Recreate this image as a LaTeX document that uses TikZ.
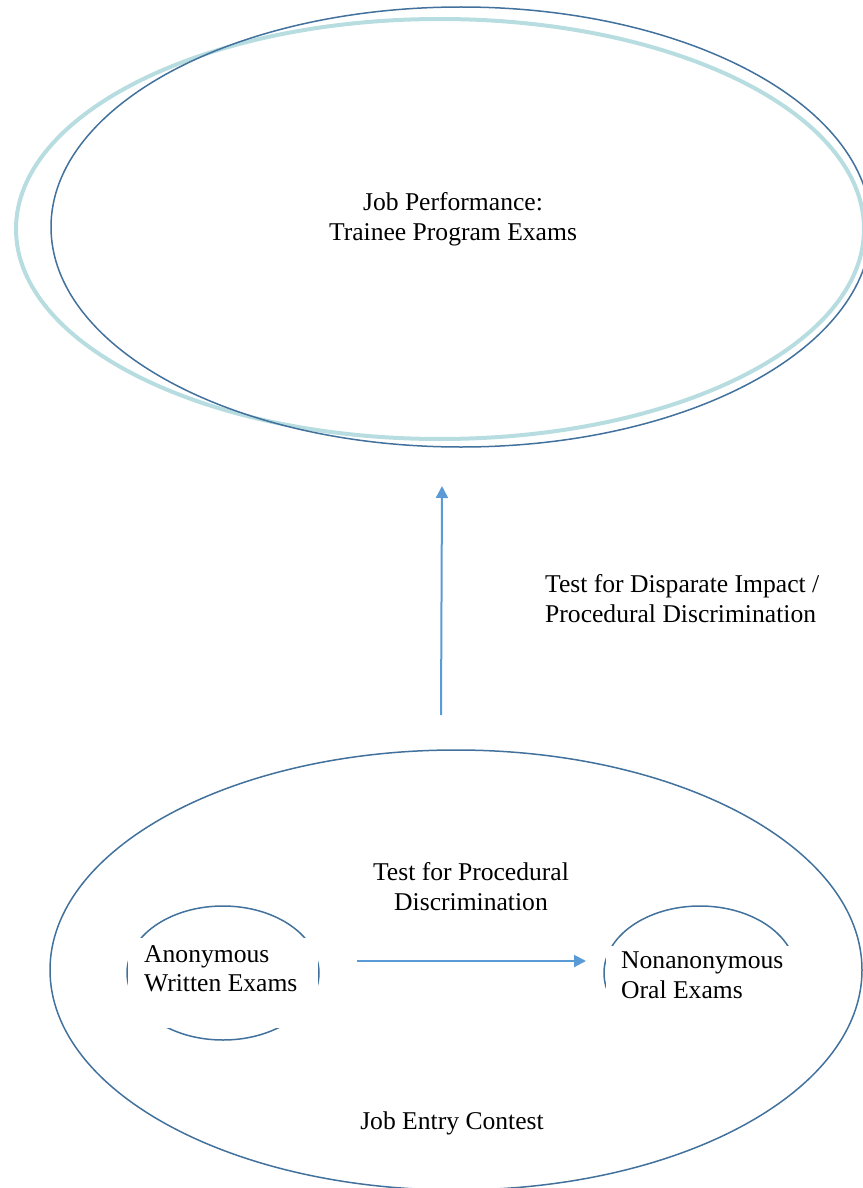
\documentclass[tikz,border=0pt]{standalone}
\usepackage{fontspec}
\setmainfont{Liberation Serif}
\usetikzlibrary{arrows.meta}
\definecolor{ringdark}{HTML}{41719C}
\definecolor{ringlight}{HTML}{B7DDE0}
\definecolor{arrowblue}{HTML}{5B9BD5}
\tikzset{
  lbl/.style={inner sep=0pt, font=\fontsize{25.6}{29.5}\selectfont},
  ring/.style={draw=ringdark, line width=1.5pt},
  lightring/.style={draw=ringlight, line width=4pt},
  flow/.style={draw=arrowblue, line width=2pt, -{Triangle[length=12pt,width=12pt]}},
  mask/.style={fill=white, draw=none}
}
\begin{document}
\begin{tikzpicture}[x=1pt,y=-1pt]
\useasboundingbox (0,0) rectangle (862,1188);
% top ellipses
\draw[lightring] (440,229) ellipse [x radius=424, y radius=210];
\draw[ring] (461,227) ellipse [x radius=410, y radius=220];
% bottom ellipse
\draw[ring] (456,970) ellipse [x radius=406, y radius=220];
% small ellipses
\draw[ring] (223,973) ellipse [x radius=96, y radius=67];
\draw[ring] (700,973) ellipse [x radius=96, y radius=67];
% white text boxes covering parts of the small ellipses
\fill[mask] (128,938) rectangle (318,1028);
\fill[mask] (605.5,946) rectangle (805,1050);
% labels
\node[lbl, anchor=north, align=center] (perf) at (453,192.5) {Job Performance:\\Trainee Program Exams};
\node[lbl, anchor=north west, align=left] (disp) at (545,574.5) {Test for Disparate Impact /\\Procedural Discrimination};
\node[lbl, anchor=north, align=center] (proc) at (471,862.5) {Test for Procedural\\Discrimination};
\node[lbl, anchor=north west, align=left] (anon) at (144,945) {Anonymous\\Written Exams};
\node[lbl, anchor=north west, align=left] (nonanon) at (621,952) {Nonanonymous\\Oral Exams};
\node[lbl, anchor=north] (entry) at (452,1111.5) {Job Entry Contest};
% connectors
\coordinate (vstart) at (441,715);
\coordinate (vend) at (442,486);
\coordinate (hstart) at (357,961);
\coordinate (hend) at (586,961);
\draw[flow] (vstart) -- (vend);
\draw[flow] (hstart) -- (hend);
\end{tikzpicture}
\end{document}
